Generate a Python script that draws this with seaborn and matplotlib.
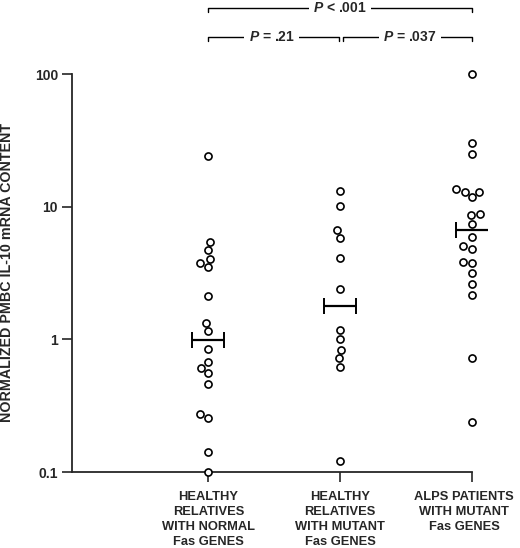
import numpy as np
import pandas as pd
import matplotlib
matplotlib.use("Agg")
import matplotlib.pyplot as plt
import seaborn as sns

# ---------------- data ----------------
categories = [
    "HEALTHY\nRELATIVES\nWITH NORMAL\nFas GENES",
    "HEALTHY\nRELATIVES\nWITH MUTANT\nFas GENES",
    "ALPS PATIENTS\nWITH MUTANT\nFas GENES",
]
normal_relatives = [24.3, 5.45, 4.7, 4.06, 3.79, 3.5, 2.13, 1.33, 1.15, 0.84,
                    0.68, 0.61, 0.56, 0.46, 0.273, 0.256, 0.142, 0.10]
mutant_relatives = [13.1, 10.1, 6.7, 5.8, 4.13, 2.4, 1.18, 1.01, 0.835, 0.72,
                    0.62, 0.12]
alps_patients = [100, 30.4, 24.8, 13.5, 13.0, 13.0, 11.8, 8.8, 8.6, 7.4, 5.94,
                 5.06, 4.78, 3.84, 3.75, 3.14, 2.61, 2.17, 0.72, 0.24]
y_ticks = [0.1, 1, 10, 100]
y_tick_labels = ["0.1", "1", "10", "100"]
y_label = "NORMALIZED PMBC IL-10 mRNA CONTENT"
p_top = r"$\mathit{P}$ < .001"
p_left = r"$\mathit{P}$ = .21"
p_right = r"$\mathit{P}$ = .037"

groups = [normal_relatives, mutant_relatives, alps_patients]
df = pd.DataFrame({
    "group": np.repeat(categories, [len(g) for g in groups]),
    "value": np.concatenate(groups),
})

# ---------------- style ----------------
sns.set_style("ticks")
plt.rcParams["font.family"] = ["Liberation Sans", "DejaVu Sans"]
plt.rcParams["mathtext.fontset"] = "custom"
plt.rcParams["mathtext.it"] = "Liberation Sans:italic:bold"
plt.rcParams["mathtext.rm"] = "Liberation Sans:bold"

W, H = 520, 548
fig = plt.figure(figsize=(W / 100, H / 100), dpi=100)
ax = fig.add_axes([72 / W, 1 - 472 / H, (472 - 72) / W, (472 - 74) / H])
ax.set_yscale("log")
ax.set_ylim(0.1, 100)
ax.set_xlim(-1.034, 2.0)

# medians with caps
medians = df.groupby("group", sort=False)["value"].median().reindex(categories)
ax.errorbar(np.arange(len(categories)), medians.values, xerr=0.122, fmt="none",
            ecolor="black", elinewidth=1.6, capsize=5.5, capthick=1.4, zorder=2)

sns.swarmplot(data=df, x="group", y="value", order=categories, ax=ax,
              size=5.1, marker="o", color="white", edgecolor="black",
              linewidth=1.2, zorder=3)
for c in ax.collections:
    c.set_clip_on(False)

ax.set_xlim(-1.034, 2.0)
ax.set_ylim(0.1, 100)

# axes style
for s in ["top", "right"]:
    ax.spines[s].set_visible(False)
for s in ["left", "bottom"]:
    ax.spines[s].set_linewidth(1.3)
ax.yaxis.set_minor_locator(matplotlib.ticker.NullLocator())
ax.set_yticks(y_ticks, y_tick_labels)
ax.tick_params(axis="y", length=7, width=1.2, pad=3, labelsize=10)
ax.tick_params(axis="x", length=7, width=1.2)
ax.set_xticks(range(len(categories)))
ax.set_xticklabels([])
for t in ax.get_yticklabels():
    t.set_fontweight("bold")
ax.set_xlabel("")
ax.set_ylabel(y_label, fontsize=10.3, fontweight="bold")
ax.yaxis.set_label_coords(-0.145, 0.5)

# category labels
xtr = ax.get_xaxis_transform()
label_shift = [0.0, 0.0, -0.06]
for i, lab in enumerate(categories):
    ax.text(i + label_shift[i], -0.047, lab, transform=xtr, ha="center",
            va="top", fontsize=9.3, fontweight="bold", linespacing=1.36,
            clip_on=False)

# significance brackets
def bracket(x0, x1, y, drop=0.011):
    ax.plot([x0, x0, x1, x1], [y - drop, y, y, y - drop], color="black",
            lw=1.0, transform=xtr, clip_on=False)

bracket(0, 2, 1.166)
bracket(0, 0.99, 1.093)
bracket(1.025, 2, 1.093)
bbox = dict(facecolor="white", edgecolor="none", pad=3)
ax.text(1.0, 1.166, p_top, transform=xtr, ha="center", va="center",
        fontsize=10, fontweight="bold", bbox=bbox)
ax.text(0.48, 1.093, p_left, transform=xtr, ha="center", va="center",
        fontsize=10, fontweight="bold", bbox=bbox)
ax.text(1.53, 1.093, p_right, transform=xtr, ha="center", va="center",
        fontsize=10, fontweight="bold", bbox=bbox)

fig.savefig("out.png", dpi=100)
